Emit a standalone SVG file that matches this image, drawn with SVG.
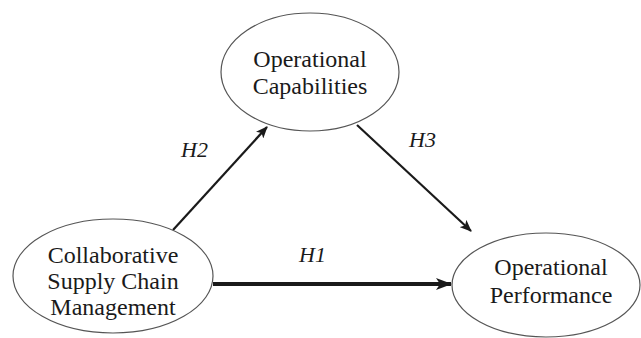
<svg xmlns="http://www.w3.org/2000/svg" width="641" height="338" viewBox="0 0 641 338">
  <style>
    .node ellipse { fill: #ffffff; stroke: #555555; stroke-width: 1.2; }
    .node text { font-family: "Liberation Serif", "Times New Roman", serif; font-size: 24px; fill: #1a1a1a; text-anchor: middle; }
    .edge { stroke: #1a1a1a; fill: none; }
    .label { font-family: "Liberation Serif", "Times New Roman", serif; font-size: 22px; font-style: italic; fill: #1a1a1a; }
  </style>
  <defs>
    <marker id="arrow" viewBox="0 0 12 10" refX="11" refY="5" markerWidth="12" markerHeight="10" markerUnits="userSpaceOnUse" orient="auto">
      <path d="M0,0 L12,5 L0,10 L3,5 Z" fill="#1a1a1a"/>
    </marker>
    <marker id="arrowBold" viewBox="0 0 16 12" refX="15" refY="6" markerWidth="16" markerHeight="12" markerUnits="userSpaceOnUse" orient="auto">
      <path d="M0,0 L16,6 L0,12 L4,6 Z" fill="#1a1a1a"/>
    </marker>
  </defs>
  <rect width="641" height="338" fill="#ffffff"/>

  <g id="connectors">
    <line class="edge" x1="173" y1="230" x2="267" y2="127" stroke-width="2.2" marker-end="url(#arrow)"/>
    <line class="edge" x1="357" y1="125" x2="471" y2="231" stroke-width="2.2" marker-end="url(#arrow)"/>
    <line class="edge" x1="213" y1="284" x2="451" y2="284" stroke-width="4" marker-end="url(#arrowBold)"/>
    <text class="label" x="181" y="157">H2</text>
    <text class="label" x="409" y="147">H3</text>
    <text class="label" x="299" y="262">H1</text>
  </g>

  <g id="capabilities" class="node">
    <ellipse cx="310" cy="72" rx="89" ry="59"/>
    <text x="310" y="67">Operational</text>
    <text x="310" y="94">Capabilities</text>
  </g>

  <g id="cscm" class="node">
    <ellipse cx="113" cy="276" rx="100" ry="57"/>
    <text x="113" y="263">Collaborative</text>
    <text x="113" y="289">Supply Chain</text>
    <text x="113" y="315">Management</text>
  </g>

  <g id="performance" class="node">
    <ellipse cx="546" cy="285" rx="94" ry="52"/>
    <text x="551" y="275">Operational</text>
    <text x="551" y="303">Performance</text>
  </g>
</svg>
